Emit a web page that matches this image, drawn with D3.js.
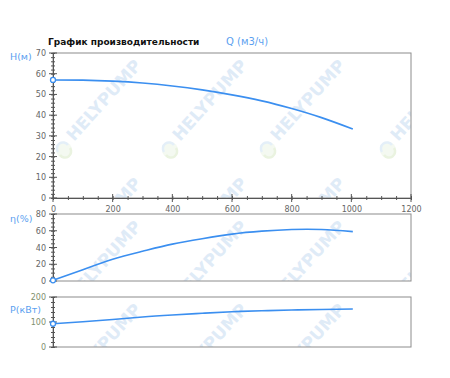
<!DOCTYPE html>
<html>
<head>
<meta charset="utf-8">
<script src="https://cdn.jsdelivr.net/npm/d3@7"></script>
<style>
  body { margin: 0; background: #fff; }
  svg { display: block; font-family: "DejaVu Sans", Verdana, sans-serif; }
</style>
</head>
<body>
<div id="chart"></div>
<script>
// performance curves
const flow       = [0, 100, 200, 300, 400, 500, 600, 700, 800, 900, 1005];
const headVals   = [57, 56.9, 56.4, 55.5, 54.1, 52.2, 49.8, 46.9, 43.2, 38.8, 33.3];
const effVals    = [0.8, 13.5, 26, 35.5, 44, 50.5, 56, 59.5, 61.5, 61.5, 59];
const powerVals  = [93, 101, 110, 120, 128, 135, 141, 145, 148, 150, 152];
const xTicks     = [0, 200, 400, 600, 800, 1000, 1200];
const headTicks  = [0, 10, 20, 30, 40, 50, 60, 70];
const effTicks   = [0, 20, 40, 60, 80];
const powerTicks = [0, 100, 200];

const W = 450, H = 378;
const svg = d3.select('#chart').append('svg').attr('width', W).attr('height', H);
const x = d3.scaleLinear().domain([0, 1200]).range([53, 411]);
const blue = '#3b8ff0', labelBlue = '#5c9ff0', axisGray = '#8c8c8c';

svg.append('text').attr('x', 48).attr('y', 45).attr('font-size', '9px').attr('font-weight', 'bold')
  .attr('fill', '#111').text('График производительности');
svg.append('text').attr('x', 226).attr('y', 45).attr('font-size', '10px')
  .attr('fill', labelBlue).text('Q (м3/ч)');

const panels = [
  {id: 'h', top: 53, bottom: 198, max: 70, ticks: headTicks, minor: 2, vals: headVals, label: 'H(м)', ly: 60, tickCol: '#666', xAxis: true, rows: [97, 215]},
  {id: 'e', top: 214, bottom: 281, max: 80, ticks: effTicks, minor: 5, vals: effVals, label: 'η(%)', ly: 222, tickCol: '#666', rows: [97]},
  {id: 'p', top: 297, bottom: 347, max: 200, ticks: powerTicks, minor: 20, vals: powerVals, label: 'P(кВт)', ly: 313, tickCol: '#7f8f6e', rows: [97]}
];

function watermark(g, cx, cy){
  const w = g.append('g').attr('transform', `translate(${cx},${cy})`);
  w.append('circle').attr('r', 8).attr('fill', '#f4f9f1');
  w.append('path').attr('d', 'M-6,2 A6,6 0 0 1 4,-5').attr('fill', 'none').attr('stroke', '#e4eff8').attr('stroke-width', 2.5);
  w.append('path').attr('d', 'M6,-2 A6,6 0 0 1 -4,5').attr('fill', 'none').attr('stroke', '#eaf3e0').attr('stroke-width', 2.5);
  w.append('text').attr('transform', 'translate(10,-8) rotate(-48)').attr('font-size', '17px')
    .attr('font-weight', 'bold').attr('fill', '#dfebf7').text('HELYPUMP');
}

panels.forEach(p => {
  const y = d3.scaleLinear().domain([0, p.max]).range([p.bottom, p.top]);
  const g = svg.append('g');

  // watermark, clipped to plot area
  g.append('clipPath').attr('id', 'clip-' + p.id).append('rect')
    .attr('x', x(0)).attr('y', p.top).attr('width', x(1200) - x(0)).attr('height', p.bottom - p.top);
  const wm = g.append('g').attr('clip-path', `url(#clip-${p.id})`);
  [64, 170, 268, 388].forEach(cx => {
    p.rows.forEach(r => watermark(wm, cx, p.top + r));
  });

  // frame
  g.append('rect').attr('x', x(0)).attr('y', p.top).attr('width', x(1200) - x(0)).attr('height', p.bottom - p.top)
    .attr('fill', 'none').attr('stroke', axisGray).attr('stroke-width', 1);

  // y axis
  const yAxis = g.append('g').attr('transform', `translate(${x(0)},0)`);
  yAxis.call(d3.axisLeft(y).tickValues(d3.range(0, p.max + 0.01, p.minor)).tickSize(2).tickFormat(''))
    .call(a => a.selectAll('line').attr('x2', -2).attr('x1', 2).attr('stroke', '#555'));
  yAxis.append('g').call(d3.axisLeft(y).tickValues(p.ticks).tickSize(0).tickPadding(7))
    .call(a => a.selectAll('line').remove())
    .call(a => a.selectAll('text').attr('fill', p.tickCol).attr('font-size', '8px').attr('font-family', '"DejaVu Sans", sans-serif'));
  yAxis.selectAll('.domain').attr('stroke', '#555');
  g.selectAll('.major').data(p.ticks).enter().append('line').attr('class', 'major')
    .attr('x1', x(0) - 4).attr('x2', x(0) + 4).attr('y1', d => y(d)).attr('y2', d => y(d)).attr('stroke', '#555');

  svg.append('text').attr('x', 10).attr('y', p.ly).attr('font-size', '9.5px').attr('fill', labelBlue).text(p.label);

  if (p.xAxis) {
    const xa = g.append('g').attr('transform', `translate(0,${p.bottom})`);
    xa.call(d3.axisBottom(x).tickValues(d3.range(0, 1201, 50)).tickSize(2).tickFormat(''))
      .call(a => a.selectAll('line').attr('y1', -2).attr('y2', 2).attr('stroke', '#555'));
    xa.append('g').call(d3.axisBottom(x).tickValues(xTicks).tickSize(0).tickPadding(8).tickFormat(d3.format('d')))
      .call(a => a.select('.domain').remove())
      .call(a => a.selectAll('text').attr('fill', '#666').attr('font-size', '8px').attr('font-family', '"DejaVu Sans", sans-serif'));
    xa.selectAll('.domain').attr('stroke', '#555');
    g.selectAll('.xmaj').data(xTicks).enter().append('line').attr('class', 'xmaj')
      .attr('x1', d => x(d)).attr('x2', d => x(d)).attr('y1', p.bottom - 4).attr('y2', p.bottom + 4).attr('stroke', '#555');
  }

  // curve
  const line = d3.line().x((d, i) => x(flow[i])).y(d => y(d)).curve(d3.curveNatural);
  g.append('path').datum(p.vals).attr('d', line).attr('fill', 'none').attr('stroke', blue).attr('stroke-width', 1.6);
  g.append('circle').attr('cx', x(flow[0])).attr('cy', y(p.vals[0])).attr('r', 2.5)
    .attr('fill', '#fff').attr('stroke', blue).attr('stroke-width', 1.3);
});
</script>
</body>
</html>
